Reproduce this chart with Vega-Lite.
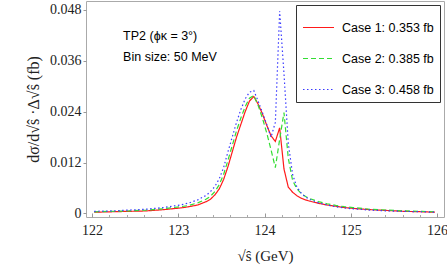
{
  "$schema": "https://vega.github.io/schema/vega-lite/v6.json",
  "width": 358,
  "height": 216,
  "autosize": "none",
  "padding": {"left": 86, "top": 1, "right": 3, "bottom": 51},
  "background": "white",
  "config": {
    "view": {"stroke": "#aaaaaa", "strokeWidth": 1},
    "legend": {
      "orient": "top-right",
      "offset": 4,
      "padding": 6,
      "strokeColor": "#333333",
      "fillColor": "white",
      "labelFont": "Liberation Sans",
      "labelFontSize": 12.5,
      "labelColor": "#000000",
      "labelLimit": 300,
      "symbolType": "stroke",
      "symbolSize": 961,
      "symbolStrokeWidth": 1.2,
      "rowPadding": 8,
      "labelOffset": 7
    }
  },
  "resolve": {"axis": {"x": "independent"}},
  "data": {"values": [
    {"x":122.025,"y":0.0003,"case":"Case 1: 0.353 fb"},
    {"x":122.225,"y":0.0004,"case":"Case 1: 0.353 fb"},
    {"x":122.425,"y":0.0005,"case":"Case 1: 0.353 fb"},
    {"x":122.625,"y":0.0006,"case":"Case 1: 0.353 fb"},
    {"x":122.825,"y":0.0009,"case":"Case 1: 0.353 fb"},
    {"x":123.025,"y":0.0013,"case":"Case 1: 0.353 fb"},
    {"x":123.125,"y":0.0016,"case":"Case 1: 0.353 fb"},
    {"x":123.225,"y":0.0020,"case":"Case 1: 0.353 fb"},
    {"x":123.325,"y":0.0028,"case":"Case 1: 0.353 fb"},
    {"x":123.375,"y":0.0034,"case":"Case 1: 0.353 fb"},
    {"x":123.425,"y":0.0044,"case":"Case 1: 0.353 fb"},
    {"x":123.475,"y":0.0058,"case":"Case 1: 0.353 fb"},
    {"x":123.525,"y":0.0080,"case":"Case 1: 0.353 fb"},
    {"x":123.575,"y":0.0110,"case":"Case 1: 0.353 fb"},
    {"x":123.625,"y":0.0145,"case":"Case 1: 0.353 fb"},
    {"x":123.675,"y":0.0180,"case":"Case 1: 0.353 fb"},
    {"x":123.725,"y":0.0210,"case":"Case 1: 0.353 fb"},
    {"x":123.775,"y":0.0240,"case":"Case 1: 0.353 fb"},
    {"x":123.825,"y":0.0265,"case":"Case 1: 0.353 fb"},
    {"x":123.875,"y":0.0276,"case":"Case 1: 0.353 fb"},
    {"x":123.925,"y":0.0258,"case":"Case 1: 0.353 fb"},
    {"x":123.975,"y":0.0235,"case":"Case 1: 0.353 fb"},
    {"x":124.025,"y":0.0208,"case":"Case 1: 0.353 fb"},
    {"x":124.075,"y":0.0183,"case":"Case 1: 0.353 fb"},
    {"x":124.125,"y":0.0170,"case":"Case 1: 0.353 fb"},
    {"x":124.175,"y":0.0202,"case":"Case 1: 0.353 fb"},
    {"x":124.225,"y":0.0105,"case":"Case 1: 0.353 fb"},
    {"x":124.275,"y":0.0062,"case":"Case 1: 0.353 fb"},
    {"x":124.325,"y":0.0050,"case":"Case 1: 0.353 fb"},
    {"x":124.375,"y":0.0042,"case":"Case 1: 0.353 fb"},
    {"x":124.425,"y":0.0036,"case":"Case 1: 0.353 fb"},
    {"x":124.475,"y":0.0032,"case":"Case 1: 0.353 fb"},
    {"x":124.525,"y":0.0029,"case":"Case 1: 0.353 fb"},
    {"x":124.625,"y":0.0024,"case":"Case 1: 0.353 fb"},
    {"x":124.725,"y":0.0020,"case":"Case 1: 0.353 fb"},
    {"x":124.825,"y":0.0017,"case":"Case 1: 0.353 fb"},
    {"x":124.925,"y":0.0014,"case":"Case 1: 0.353 fb"},
    {"x":125.025,"y":0.0012,"case":"Case 1: 0.353 fb"},
    {"x":125.225,"y":0.0009,"case":"Case 1: 0.353 fb"},
    {"x":125.425,"y":0.0007,"case":"Case 1: 0.353 fb"},
    {"x":125.625,"y":0.0005,"case":"Case 1: 0.353 fb"},
    {"x":125.825,"y":0.0004,"case":"Case 1: 0.353 fb"},
    {"x":125.975,"y":0.0003,"case":"Case 1: 0.353 fb"},

    {"x":122.025,"y":0.0004,"case":"Case 2: 0.385 fb"},
    {"x":122.225,"y":0.0005,"case":"Case 2: 0.385 fb"},
    {"x":122.425,"y":0.0006,"case":"Case 2: 0.385 fb"},
    {"x":122.625,"y":0.0008,"case":"Case 2: 0.385 fb"},
    {"x":122.825,"y":0.0011,"case":"Case 2: 0.385 fb"},
    {"x":123.025,"y":0.0016,"case":"Case 2: 0.385 fb"},
    {"x":123.125,"y":0.0019,"case":"Case 2: 0.385 fb"},
    {"x":123.225,"y":0.0025,"case":"Case 2: 0.385 fb"},
    {"x":123.325,"y":0.0034,"case":"Case 2: 0.385 fb"},
    {"x":123.375,"y":0.0041,"case":"Case 2: 0.385 fb"},
    {"x":123.425,"y":0.0052,"case":"Case 2: 0.385 fb"},
    {"x":123.475,"y":0.0068,"case":"Case 2: 0.385 fb"},
    {"x":123.525,"y":0.0092,"case":"Case 2: 0.385 fb"},
    {"x":123.575,"y":0.0125,"case":"Case 2: 0.385 fb"},
    {"x":123.625,"y":0.0160,"case":"Case 2: 0.385 fb"},
    {"x":123.675,"y":0.0195,"case":"Case 2: 0.385 fb"},
    {"x":123.725,"y":0.0225,"case":"Case 2: 0.385 fb"},
    {"x":123.775,"y":0.0252,"case":"Case 2: 0.385 fb"},
    {"x":123.825,"y":0.0272,"case":"Case 2: 0.385 fb"},
    {"x":123.875,"y":0.0278,"case":"Case 2: 0.385 fb"},
    {"x":123.925,"y":0.0255,"case":"Case 2: 0.385 fb"},
    {"x":123.975,"y":0.0225,"case":"Case 2: 0.385 fb"},
    {"x":124.025,"y":0.0190,"case":"Case 2: 0.385 fb"},
    {"x":124.075,"y":0.0150,"case":"Case 2: 0.385 fb"},
    {"x":124.125,"y":0.0108,"case":"Case 2: 0.385 fb"},
    {"x":124.175,"y":0.0175,"case":"Case 2: 0.385 fb"},
    {"x":124.225,"y":0.0238,"case":"Case 2: 0.385 fb"},
    {"x":124.275,"y":0.0130,"case":"Case 2: 0.385 fb"},
    {"x":124.325,"y":0.0078,"case":"Case 2: 0.385 fb"},
    {"x":124.375,"y":0.0058,"case":"Case 2: 0.385 fb"},
    {"x":124.425,"y":0.0047,"case":"Case 2: 0.385 fb"},
    {"x":124.475,"y":0.0040,"case":"Case 2: 0.385 fb"},
    {"x":124.525,"y":0.0035,"case":"Case 2: 0.385 fb"},
    {"x":124.625,"y":0.0028,"case":"Case 2: 0.385 fb"},
    {"x":124.725,"y":0.0023,"case":"Case 2: 0.385 fb"},
    {"x":124.825,"y":0.0019,"case":"Case 2: 0.385 fb"},
    {"x":124.925,"y":0.0016,"case":"Case 2: 0.385 fb"},
    {"x":125.025,"y":0.0014,"case":"Case 2: 0.385 fb"},
    {"x":125.225,"y":0.0010,"case":"Case 2: 0.385 fb"},
    {"x":125.425,"y":0.0008,"case":"Case 2: 0.385 fb"},
    {"x":125.625,"y":0.0006,"case":"Case 2: 0.385 fb"},
    {"x":125.825,"y":0.0005,"case":"Case 2: 0.385 fb"},
    {"x":125.975,"y":0.0004,"case":"Case 2: 0.385 fb"},

    {"x":122.025,"y":0.0005,"case":"Case 3: 0.458 fb"},
    {"x":122.225,"y":0.0006,"case":"Case 3: 0.458 fb"},
    {"x":122.425,"y":0.0008,"case":"Case 3: 0.458 fb"},
    {"x":122.625,"y":0.0010,"case":"Case 3: 0.458 fb"},
    {"x":122.825,"y":0.0014,"case":"Case 3: 0.458 fb"},
    {"x":123.025,"y":0.0020,"case":"Case 3: 0.458 fb"},
    {"x":123.125,"y":0.0025,"case":"Case 3: 0.458 fb"},
    {"x":123.225,"y":0.0032,"case":"Case 3: 0.458 fb"},
    {"x":123.325,"y":0.0043,"case":"Case 3: 0.458 fb"},
    {"x":123.375,"y":0.0052,"case":"Case 3: 0.458 fb"},
    {"x":123.425,"y":0.0064,"case":"Case 3: 0.458 fb"},
    {"x":123.475,"y":0.0082,"case":"Case 3: 0.458 fb"},
    {"x":123.525,"y":0.0108,"case":"Case 3: 0.458 fb"},
    {"x":123.575,"y":0.0145,"case":"Case 3: 0.458 fb"},
    {"x":123.625,"y":0.0180,"case":"Case 3: 0.458 fb"},
    {"x":123.675,"y":0.0215,"case":"Case 3: 0.458 fb"},
    {"x":123.725,"y":0.0245,"case":"Case 3: 0.458 fb"},
    {"x":123.775,"y":0.0270,"case":"Case 3: 0.458 fb"},
    {"x":123.825,"y":0.0286,"case":"Case 3: 0.458 fb"},
    {"x":123.875,"y":0.0290,"case":"Case 3: 0.458 fb"},
    {"x":123.925,"y":0.0265,"case":"Case 3: 0.458 fb"},
    {"x":123.975,"y":0.0238,"case":"Case 3: 0.458 fb"},
    {"x":124.025,"y":0.0210,"case":"Case 3: 0.458 fb"},
    {"x":124.075,"y":0.0180,"case":"Case 3: 0.458 fb"},
    {"x":124.125,"y":0.0215,"case":"Case 3: 0.458 fb"},
    {"x":124.175,"y":0.0477,"case":"Case 3: 0.458 fb"},
    {"x":124.225,"y":0.0330,"case":"Case 3: 0.458 fb"},
    {"x":124.275,"y":0.0165,"case":"Case 3: 0.458 fb"},
    {"x":124.325,"y":0.0092,"case":"Case 3: 0.458 fb"},
    {"x":124.375,"y":0.0062,"case":"Case 3: 0.458 fb"},
    {"x":124.425,"y":0.0048,"case":"Case 3: 0.458 fb"},
    {"x":124.475,"y":0.0039,"case":"Case 3: 0.458 fb"},
    {"x":124.525,"y":0.0033,"case":"Case 3: 0.458 fb"},
    {"x":124.625,"y":0.0025,"case":"Case 3: 0.458 fb"},
    {"x":124.725,"y":0.0020,"case":"Case 3: 0.458 fb"},
    {"x":124.825,"y":0.0016,"case":"Case 3: 0.458 fb"},
    {"x":124.925,"y":0.0013,"case":"Case 3: 0.458 fb"},
    {"x":125.025,"y":0.0011,"case":"Case 3: 0.458 fb"},
    {"x":125.225,"y":0.0008,"case":"Case 3: 0.458 fb"},
    {"x":125.425,"y":0.0006,"case":"Case 3: 0.458 fb"},
    {"x":125.625,"y":0.0005,"case":"Case 3: 0.458 fb"},
    {"x":125.825,"y":0.0004,"case":"Case 3: 0.458 fb"},
    {"x":125.975,"y":0.0003,"case":"Case 3: 0.458 fb"}
  ]},
  "layer": [
    {
      "mark": {"type": "line", "strokeWidth": 1.2, "clip": true},
      "encoding": {
        "x": {
          "field": "x", "type": "quantitative",
          "scale": {"domain": [121.93, 126.08], "nice": false, "zero": false},
          "axis": {
            "values": [122, 123, 124, 125, 126],
            "format": "d",
            "labelOverlap": false, "labelFlush": false, "labelBound": false,
            "tickSize": -4, "tickColor": "#999999", "tickWidth": 1,
            "labelPadding": 10,
            "domain": false, "grid": false,
            "labelFont": "Liberation Serif", "labelFontSize": 14, "labelColor": "#222222",
            "title": "√ŝ (GeV)", "titleFont": "Liberation Serif", "titleFontSize": 15,
            "titleFontWeight": "normal", "titleColor": "#222222", "titlePadding": 11
          }
        },
        "y": {
          "field": "y", "type": "quantitative",
          "scale": {"domain": [-0.00083, 0.0501], "nice": false, "zero": false},
          "axis": {
            "values": [0, 0.012, 0.024, 0.036, 0.048],
            "labelExpr": "datum.value == 0 ? '0' : format(datum.value, '.3f')",
            "tickSize": 3, "tickColor": "#999999",
            "labelPadding": 2,
            "domain": false, "grid": false,
            "labelFont": "Liberation Serif", "labelFontSize": 14, "labelColor": "#222222",
            "title": "dσ/d√ŝ ·Δ√ŝ (fb)", "titleFont": "Liberation Serif", "titleFontSize": 16,
            "titleFontWeight": "normal", "titleColor": "#222222", "titlePadding": 8
          }
        },
        "color": {
          "field": "case", "type": "nominal",
          "scale": {"domain": ["Case 1: 0.353 fb", "Case 2: 0.385 fb", "Case 3: 0.458 fb"], "range": ["#ff1a1a", "#33dd33", "#3a3aff"]},
          "legend": {"title": null}
        },
        "strokeDash": {
          "field": "case", "type": "nominal",
          "scale": {"domain": ["Case 1: 0.353 fb", "Case 2: 0.385 fb", "Case 3: 0.458 fb"], "range": [[1, 0], [5, 3], [1.5, 2.5]]},
          "legend": {"title": null}
        }
      }
    },
    {
      "data": {"values": [{}]},
      "mark": {"type": "text", "text": "TP2 (ϕκ = 3°)", "font": "Liberation Sans", "fontSize": 12.5, "align": "left", "baseline": "middle", "color": "#000000"},
      "encoding": {
        "x": {
          "datum": 122.36, "type": "quantitative",
          "axis": {
            "values": [122.2,122.4,122.6,122.8,123.2,123.4,123.6,123.8,124.2,124.4,124.6,124.8,125.2,125.4,125.6,125.8],
            "labels": false, "title": null, "domain": false, "grid": false,
            "tickSize": -2.5, "tickColor": "#aaaaaa", "tickWidth": 1, "orient": "bottom"
          }
        },
        "y": {"datum": 0.0419, "type": "quantitative"}
      }
    },
    {
      "data": {"values": [{}]},
      "mark": {"type": "text", "text": "Bin size: 50 MeV", "font": "Liberation Sans", "fontSize": 12.5, "align": "left", "baseline": "middle", "color": "#000000"},
      "encoding": {
        "x": {"datum": 122.36, "type": "quantitative", "axis": null},
        "y": {"datum": 0.0368, "type": "quantitative"}
      }
    }
  ]
}
